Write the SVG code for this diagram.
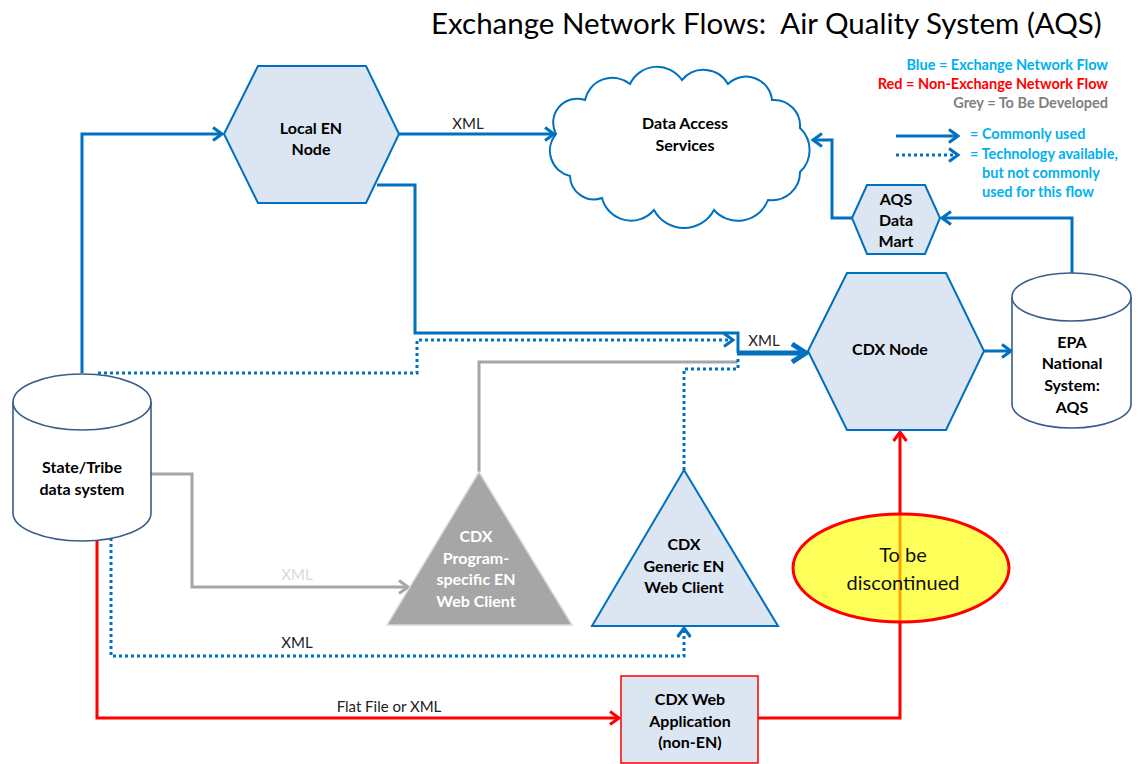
<svg xmlns="http://www.w3.org/2000/svg" width="1142" height="764" viewBox="0 0 1142 764">
<style>
.lbl{font-family:Lato,"Open Sans","Liberation Sans",sans-serif;font-weight:bold;font-size:16px;fill:#000;text-anchor:middle}
.wlbl{font-family:Lato,"Open Sans","Liberation Sans",sans-serif;font-weight:bold;font-size:16px;fill:#fff;text-anchor:middle}
.reg{font-family:Lato,"Open Sans","Liberation Sans",sans-serif;font-size:15px;fill:#222;text-anchor:middle}
.leg{font-family:Lato,"Open Sans","Liberation Sans",sans-serif;font-weight:bold;font-size:14.5px}
.hex{fill:#DCE6F2;stroke:#0070C0;stroke-width:2}
.cyl{fill:#fff;stroke:#385D8A;stroke-width:1.6}
.b{fill:none;stroke:#0070C0;stroke-width:3}
.bd{fill:none;stroke:#0070C0;stroke-width:3;stroke-dasharray:3 3}
.g{fill:none;stroke:#A6A6A6;stroke-width:3}
.r{fill:none;stroke:#FF0000;stroke-width:3}
</style>
<defs>
<marker id="ab" markerUnits="userSpaceOnUse" markerWidth="16" markerHeight="16" refX="13" refY="8" orient="auto" viewBox="0 0 16 16"><path d="M4,1.5 L13,8 L4,14.5" fill="none" stroke="#0070C0" stroke-width="3"/></marker>
<marker id="abig" markerUnits="userSpaceOnUse" markerWidth="22" markerHeight="22" refX="19" refY="11" orient="auto" viewBox="0 0 22 22"><path d="M5,2 L19,11 L5,20" fill="none" stroke="#0070C0" stroke-width="5"/></marker>
<marker id="ag" markerUnits="userSpaceOnUse" markerWidth="16" markerHeight="16" refX="13" refY="8" orient="auto" viewBox="0 0 16 16"><path d="M4,1.5 L13,8 L4,14.5" fill="none" stroke="#A6A6A6" stroke-width="3"/></marker>
<marker id="ar" markerUnits="userSpaceOnUse" markerWidth="16" markerHeight="16" refX="13" refY="8" orient="auto" viewBox="0 0 16 16"><path d="M4,1.5 L13,8 L4,14.5" fill="none" stroke="#FF0000" stroke-width="3"/></marker>
</defs>
<rect width="1142" height="764" fill="#fff"/>
<text x="431" y="34" xml:space="preserve" style="font-family:Lato,'Open Sans','Liberation Sans',sans-serif;font-size:29.5px;fill:#000">Exchange Network Flows:  Air Quality System (AQS)</text>
<g id="legend">
<text class="leg" x="1108" y="70" text-anchor="end" fill="#00B0F0">Blue = Exchange Network Flow</text>
<text class="leg" x="1108" y="89" text-anchor="end" fill="#FF0000">Red = Non-Exchange Network Flow</text>
<text class="leg" x="1108" y="108" text-anchor="end" fill="#808080">Grey = To Be Developed</text>
<path class="b" d="M896,136 H958" marker-end="url(#ab)"/>
<path class="bd" d="M896,155 H958" marker-end="url(#ab)"/>
<text class="leg" x="970" y="139" fill="#00B0F0">= Commonly used</text>
<text class="leg" x="970" y="159" fill="#00B0F0">= Technology available,</text>
<text class="leg" x="982" y="178" fill="#00B0F0">but not commonly</text>
<text class="leg" x="982" y="197" fill="#00B0F0">used for this flow</text>
</g>
<g id="connectors">
<path class="b" d="M82,373 V134 H222" marker-end="url(#ab)"/>
<path class="b" d="M399,134 H554" marker-end="url(#ab)"/>
<text class="reg" x="468" y="129">XML</text>
<path class="b" d="M377,185 H415 V333 H738 V353"/>
<path class="bd" d="M98,373 H417 V340 H733" marker-end="url(#ab)"/>
<path class="g" d="M479,472 V362 H738"/>
<path class="bd" d="M684,470 V369 H738 V356"/>
<path d="M737,353 H806" fill="none" stroke="#0070C0" stroke-width="5" marker-end="url(#abig)"/>
<text class="reg" x="764" y="346">XML</text>
<path class="g" d="M151,474 H192 V587 H408" marker-end="url(#ag)"/>
<text class="reg" x="297" y="580" style="fill:#D9D9D9">XML</text>
<path class="bd" d="M111,538 V656 H684 V628" marker-end="url(#ab)"/>
<text class="reg" x="297" y="648">XML</text>
<path class="r" d="M97,540 V718 H619" marker-end="url(#ar)"/>
<text class="reg" x="389" y="712">Flat File or XML</text>
<path class="r" d="M758,718 H900 V432" marker-end="url(#ar)"/>
<path class="b" d="M984,351 H1011" marker-end="url(#ab)"/>
<path class="b" d="M1072,273 V218 H942" marker-end="url(#ab)"/>
<path class="b" d="M852,218 H832 V140 H813" marker-end="url(#ab)"/>
</g>
<g id="state">
<path class="cyl" d="M13,402 A69,28 0 0,1 151,402 V513 A69,28 0 0,1 13,513 Z"/>
<path class="cyl" d="M13,402 A69,28 0 0,0 151,402" fill="none"/>
<text class="lbl" x="82" y="473">State/Tribe</text>
<text class="lbl" x="82" y="495">data system</text>
</g>
<g id="localen">
<polygon class="hex" points="224,134 258,66 366,66 399,134 366,203 258,203"/>
<text class="lbl" x="311" y="134">Local EN</text>
<text class="lbl" x="311" y="155">Node</text>
</g>
<g id="cloud">
<path d="M556,134 A24,24 0 0,1 585,100 A28,28 0 0,1 630,84 A30,30 0 0,1 682,80 A28,28 0 0,1 728,84 A26,26 0 0,1 772,100 A26,26 0 0,1 800,128 A30,30 0 0,1 800,172 A28,28 0 0,1 768,200 A32,32 0 0,1 714,210 A34,34 0 0,1 654,210 A30,30 0 0,1 602,198 A24,24 0 0,1 570,176 A26,26 0 0,1 556,134 Z" fill="#fff" stroke="#0070C0" stroke-width="2"/>
<text class="lbl" x="685" y="129">Data Access</text>
<text class="lbl" x="685" y="151">Services</text>
</g>
<g id="datamart">
<polygon class="hex" points="852,218 867,185 925,185 940,218 925,254 867,254"/>
<text class="lbl" x="896" y="205">AQS</text>
<text class="lbl" x="896" y="226">Data</text>
<text class="lbl" x="896" y="247">Mart</text>
</g>
<g id="cdxnode">
<polygon class="hex" points="808,351 847,273 946,273 984,351 946,430 847,430"/>
<text class="lbl" x="890" y="355">CDX Node</text>
</g>
<g id="epa">
<path class="cyl" d="M1012,297 A59.5,24 0 0,1 1131,297 V404 A59.5,24 0 0,1 1012,404 Z"/>
<path class="cyl" d="M1012,297 A59.5,24 0 0,0 1131,297" fill="none"/>
<text class="lbl" x="1072" y="348">EPA</text>
<text class="lbl" x="1072" y="369">National</text>
<text class="lbl" x="1072" y="391">System:</text>
<text class="lbl" x="1072" y="413">AQS</text>
</g>
<g id="progclient">
<polygon points="479,472 387,625 572,625" fill="#A6A6A6" stroke="#D9D9D9" stroke-width="1.5"/>
<text class="wlbl" x="476" y="542">CDX</text>
<text class="wlbl" x="476" y="564">Program-</text>
<text class="wlbl" x="476" y="585">specific EN</text>
<text class="wlbl" x="476" y="607">Web Client</text>
</g>
<g id="genclient">
<polygon class="hex" points="684,470 592,626 778,626"/>
<text class="lbl" x="684" y="550">CDX</text>
<text class="lbl" x="684" y="572">Generic EN</text>
<text class="lbl" x="684" y="593">Web Client</text>
</g>
<g id="webapp">
<rect x="621" y="676" width="137" height="87" fill="#DCE6F2" stroke="#FF0000" stroke-width="1.5"/>
<text class="lbl" x="690" y="705">CDX Web</text>
<text class="lbl" x="690" y="727">Application</text>
<text class="lbl" x="690" y="748">(non-EN)</text>
</g>
<g id="discontinued">
<ellipse cx="901" cy="568" rx="108" ry="54" fill="#FFFF00" fill-opacity="0.65" stroke="#FF0000" stroke-width="3"/>
<text x="903" y="562" style="font-family:Lato,'Open Sans','Liberation Sans',sans-serif;font-size:20px;fill:#111;text-anchor:middle">To be</text>
<text x="903" y="590" style="font-family:Lato,'Open Sans','Liberation Sans',sans-serif;font-size:20px;fill:#111;text-anchor:middle">discontinued</text>
</g>
</svg>
